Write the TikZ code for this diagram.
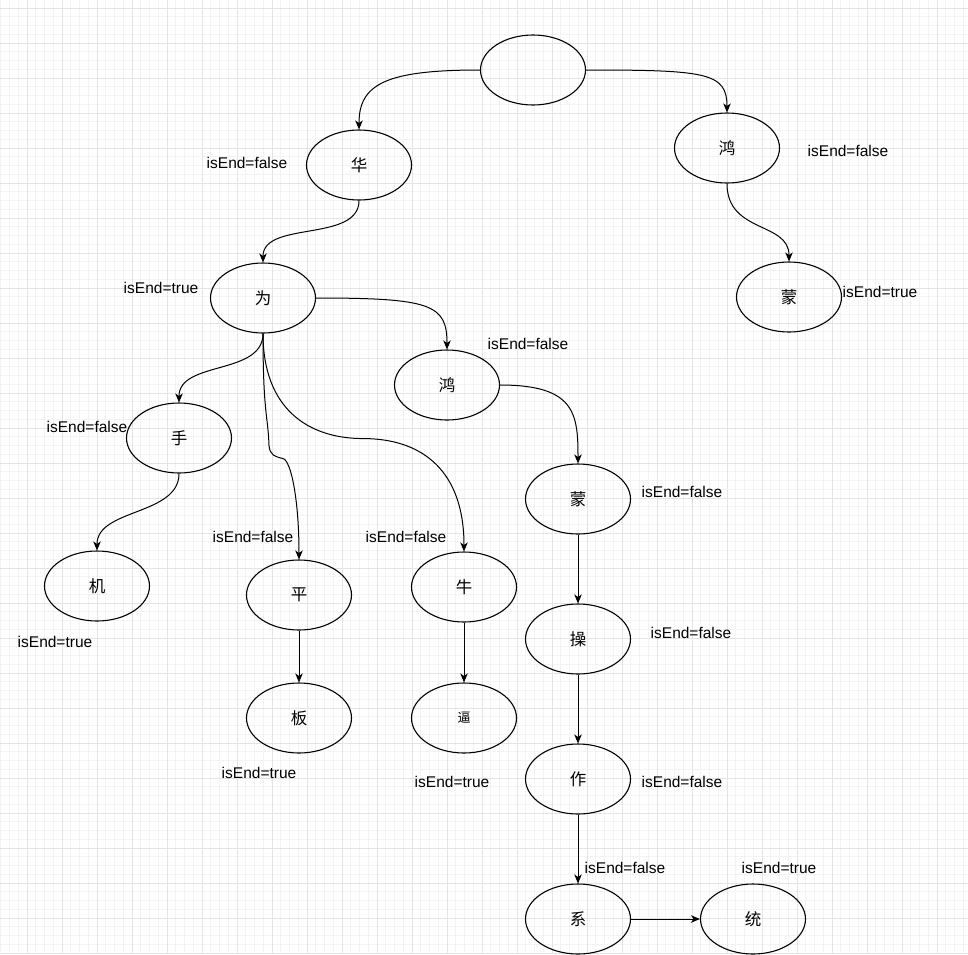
\documentclass[tikz,border=0pt]{standalone}
\usepackage{fontspec}
\setmainfont{Liberation Sans}
\newfontfamily\cjk{Noto Sans CJK SC}
\usepackage{xcolor}
\usepackage{tikz}
\usetikzlibrary{positioning,shapes,arrows.meta}

\definecolor{gridminor}{HTML}{F3F3F3}
\definecolor{gridmajor}{HTML}{E4E4E4}

\begin{document}
\begin{tikzpicture}[
            x=1pt, y=-1pt,
            auto,
            trie/.style={ellipse, draw, line width=1.1pt, minimum width=105pt, minimum height=70pt, inner sep=0pt, font=\cjk\fontsize{16.5}{19}\selectfont},
            flag/.style={font=\fontsize{15.5}{18}\selectfont, inner sep=0pt},
            link/.style={line width=1pt, -{Stealth[length=9pt,width=7.5pt,inset=2.5pt]}}
        ]
            \useasboundingbox (0,0) rectangle (968,954);
            % Grid
            \foreach \gx in {0.75,9.5,...,968} \draw[gridminor, line width=0.8pt] (\gx,0) -- (\gx,954);
            \foreach \gy in {-0.75,8,...,954} \draw[gridminor, line width=0.8pt] (0,\gy) -- (968,\gy);
            \foreach \gx in {27,62,...,968} \draw[gridmajor, line width=0.8pt] (\gx,0) -- (\gx,954);
            \foreach \gy in {8,43,...,954} \draw[gridmajor, line width=0.8pt] (0,\gy) -- (968,\gy);

            % Vertices
            \node[trie] (root)  at (533,70) {};
            \node[trie] (hua)   at (359,165) {华};
            \node[trie] (hongA) at (727,148) {鸿};
            \node[trie] (mengA) at (789,297) {蒙};
            \node[trie] (wei)   at (263,298) {为};
            \node[trie] (hongB) at (447,385) {鸿};
            \node[trie] (shou)  at (179,438) {手};
            \node[trie] (ji)    at (97,586) {机};
            \node[trie] (ping)  at (299,595) {平};
            \node[trie] (ban)   at (299,718) {板};
            \node[trie] (niu)   at (464,587) {牛};
            \node[trie, font=\cjk\fontsize{13}{15}\selectfont] (bi) at (464,718) {逼};
            \node[trie] (mengB) at (578,499) {蒙};
            \node[trie] (cao)   at (578,639) {操};
            \node[trie] (zuo)   at (578,779) {作};
            \node[trie] (xi)    at (578,919) {系};
            \node[trie] (tong)  at (753,919) {统};

            % Flags
            \node[flag] (fHua)   at (247,163) {isEnd=false};
            \node[flag] (fHongA) at (848,151) {isEnd=false};
            \node[flag] (fWei)   at (161,288) {isEnd=true};
            \node[flag] (fMengA) at (880,292) {isEnd=true};
            \node[flag] (fHongB) at (528,344) {isEnd=false};
            \node[flag] (fShou)  at (87,427) {isEnd=false};
            \node[flag] (fMengB) at (682,492) {isEnd=false};
            \node[flag] (fPing)  at (253,537) {isEnd=false};
            \node[flag] (fNiu)   at (406,537) {isEnd=false};
            \node[flag] (fJi)    at (55,642) {isEnd=true};
            \node[flag] (fCao)   at (691,633) {isEnd=false};
            \node[flag] (fBan)   at (259,773) {isEnd=true};
            \node[flag] (fBi)    at (452,782) {isEnd=true};
            \node[flag] (fZuo)   at (682,782) {isEnd=false};
            \node[flag] (fXi)    at (625,868) {isEnd=false};
            \node[flag] (fTong)  at (779,868) {isEnd=true};

            % Edges
            \draw[link] (root.west) .. controls +(-95,0) and +(0,-45) .. (hua.north);
            \draw[link] (root.east) .. controls +(120,0) and +(0,-40) .. (hongA.north);
            \draw[link] (hua.south) .. controls +(0,42) and +(0,-42) .. (wei.north);
            \draw[link] (hongA.south) .. controls +(0,50) and +(0,-40) .. (mengA.north);
            \draw[link] (wei.east) .. controls +(115,0) and +(0,-45) .. (hongB.north);
            \draw[link] (wei.south) .. controls +(0,42) and +(0,-42) .. (shou.north);
            \draw[link] (wei.south) .. controls +(0,80) and +(-1,-30) .. ++(6,112)
                .. controls +(1,10) and +(-8,-2) .. ++(14,13)
                .. controls +(8,2) and +(0,-60) .. (ping.north);
            \draw[link] (wei.south) .. controls +(0,75) and +(-55,0) .. ++(100,105)
                .. controls +(60,0) and +(0,-80) .. (niu.north);
            \draw[link] (shou.south) .. controls +(0,42) and +(0,-42) .. (ji.north);
            \draw[link] (hongB.east) .. controls +(75,0) and +(0,-50) .. (mengB.north);
            \draw[link] (mengB) -- (cao);
            \draw[link] (cao) -- (zuo);
            \draw[link] (zuo) -- (xi);
            \draw[link] (ping) -- (ban);
            \draw[link] (niu) -- (bi);
            \draw[link] (xi) -- (tong);
        \end{tikzpicture}
\end{document}
